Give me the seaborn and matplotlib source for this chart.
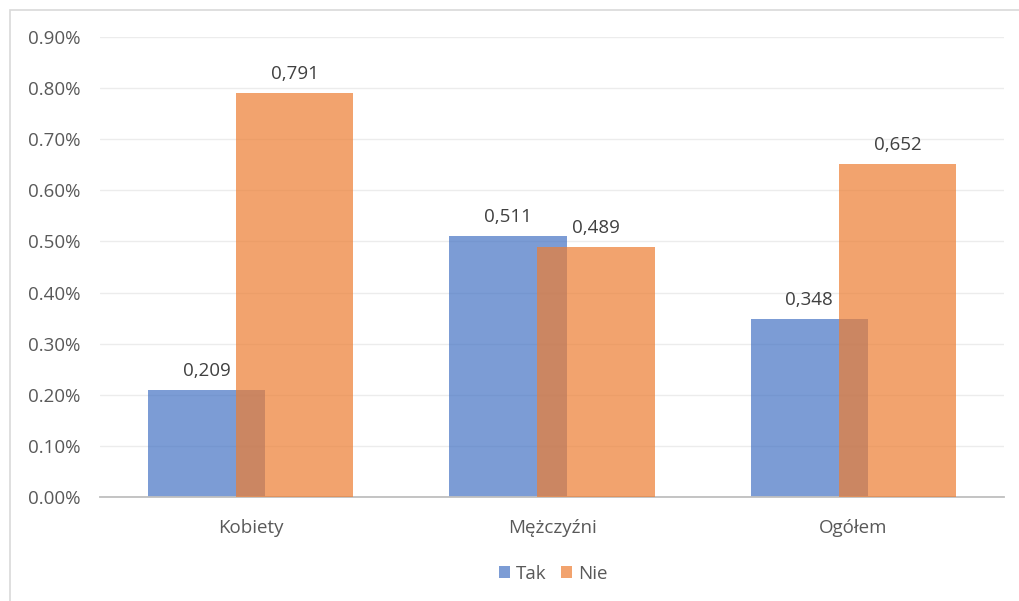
import matplotlib
matplotlib.use("Agg")
import matplotlib.pyplot as plt
import seaborn as sns
import pandas as pd
import numpy as np
from matplotlib.patches import Rectangle, Patch
from matplotlib.ticker import FuncFormatter

categories = ["Kobiety", "Mężczyźni", "Ogółem"]
tak_values = [0.209, 0.511, 0.348]
nie_values = [0.791, 0.489, 0.652]
series_names = ["Tak", "Nie"]
y_ticks = [0.0, 0.1, 0.2, 0.3, 0.4, 0.5, 0.6, 0.7, 0.8, 0.9]

sns.set_theme(style="white")
plt.rcParams['font.family'] = ['Open Sans', 'DejaVu Sans']

fig = plt.figure(figsize=(10.19, 6.01), dpi=100)
W, H = 1019, 601
ax = fig.add_axes([100 / W, 1 - 497 / H, (1004 - 100) / W, (497 - 37) / H])

# figure frame
fig.patches.append(Rectangle((10 / W, -0.1), 1.2, 1 - 10 / H + 0.1, transform=fig.transFigure,
                             fill=False, edgecolor="#d9d9d9", linewidth=1.2))

blue = "#4472C4"
orange = "#ED7D31"
width = 0.39
offset = 0.146
fs = 13.5

df_tak = pd.DataFrame({"cat": categories, "val": tak_values})
df_nie = pd.DataFrame({"cat": categories, "val": nie_values})

sns.barplot(data=df_tak, x="cat", y="val", color=blue, alpha=0.7, width=width,
            saturation=1, ax=ax, zorder=2)
n_tak = len(ax.patches)
for p in ax.patches[:n_tak]:
    p.set_x(p.get_x() - offset)
    p.set_linewidth(0)
sns.barplot(data=df_nie, x="cat", y="val", color=orange, alpha=0.7, width=width,
            saturation=1, ax=ax, zorder=3)
for p in ax.patches[n_tak:]:
    p.set_x(p.get_x() + offset)
    p.set_linewidth(0)

for p, v in zip(ax.patches, tak_values + nie_values):
    ax.text(p.get_x() + p.get_width() / 2, v + 0.019, f"{v:.3f}".replace(".", ","),
            ha="center", va="bottom", fontsize=fs, color="#404040", zorder=5)

ax.set_xlim(-0.5, 2.5)
ax.set_ylim(0, 0.9)
ax.set_yticks(y_ticks)
ax.yaxis.set_major_formatter(FuncFormatter(lambda v, p: f"{v:.2f}%"))
ax.grid(axis="y", color="#ececec", linewidth=1, zorder=0)
ax.set_axisbelow(True)
for s in ["top", "right", "left"]:
    ax.spines[s].set_visible(False)
ax.spines["bottom"].set_color("#bfbfbf")
ax.spines["bottom"].set_linewidth(1.3)
ax.tick_params(axis="both", length=0, labelsize=fs, colors="#595959")
ax.tick_params(axis="y", pad=14)
ax.tick_params(axis="x", pad=16)
ax.set_xlabel("")
ax.set_ylabel("")

handles = [Patch(facecolor=blue, alpha=0.7, edgecolor="none"),
           Patch(facecolor=orange, alpha=0.7, edgecolor="none")]
fig.legend(handles, series_names, loc="center", bbox_to_anchor=(553 / W, 1 - 574 / H),
           ncol=2, frameon=False, fontsize=fs, handlelength=0.6, handleheight=0.6,
           handletextpad=0.3, columnspacing=0.8, labelcolor="#595959")

fig.savefig("out.png", dpi=100)
